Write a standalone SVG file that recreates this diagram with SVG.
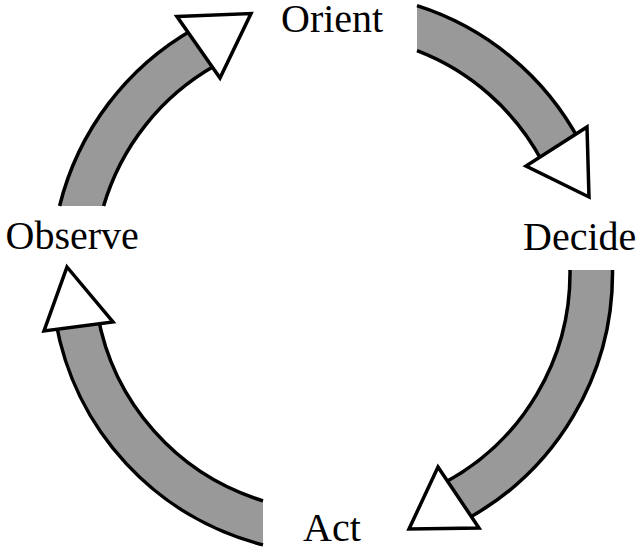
<svg xmlns="http://www.w3.org/2000/svg" width="643" height="548" viewBox="0 0 643 548">
  <defs>
    <style>
      .band { fill: #999999; stroke: none; }
      .edge { fill: none; stroke: #000; stroke-width: 3.5; }
      .head { fill: #fff; stroke: #000; stroke-width: 3.5; stroke-linejoin: miter; }
      .label { font-size: 40px; fill: #000; }
    </style>
  </defs>

  <rect width="643" height="548" fill="#fff"/>

  <!-- Curved arrows around the loop (center 332,273; outer r 280.5, inner r 238) -->
  <g id="connectors">
    <g id="observe-to-orient">
      <path class="band" d="M59.6,206 A280.5,280.5 0 0 1 193.9,28.9 L214.8,65.8 A238,238 0 0 0 103.6,206 Z"/>
      <path class="edge" d="M59.6,206 A280.5,280.5 0 0 1 193.9,28.9"/>
      <path class="edge" d="M103.6,206 A238,238 0 0 1 214.8,65.8"/>
      <polygon class="head" points="177,16.5 251,13.5 220,78"/>
    </g>
    <g id="orient-to-decide">
      <path class="band" d="M417,5.7 A280.5,280.5 0 0 1 579.7,141.3 L542.1,161.3 A238,238 0 0 0 417,50.7 Z"/>
      <path class="edge" d="M417,5.7 A280.5,280.5 0 0 1 579.7,141.3"/>
      <path class="edge" d="M417,50.7 A238,238 0 0 1 542.1,161.3"/>
      <polygon class="head" points="587,127 589,197 526,166"/>
    </g>
    <g id="decide-to-act">
      <path class="band" d="M612.5,270 A280.5,280.5 0 0 1 463.7,520.7 L443.7,483.1 A238,238 0 0 0 570,270 Z"/>
      <path class="edge" d="M612.5,270 A280.5,280.5 0 0 1 463.7,520.7"/>
      <path class="edge" d="M570,270 A238,238 0 0 1 443.7,483.1"/>
      <polygon class="head" points="438,467 479,528 409,529"/>
    </g>
    <g id="act-to-observe">
      <path class="band" d="M263,544.9 A280.5,280.5 0 0 1 55.8,321.7 L97.6,314.3 A238,238 0 0 0 263,500.8 Z"/>
      <path class="edge" d="M263,544.9 A280.5,280.5 0 0 1 55.8,321.7"/>
      <path class="edge" d="M263,500.8 A238,238 0 0 1 97.6,314.3"/>
      <polygon class="head" points="67,267 113,322 44,331"/>
    </g>
  </g>

  <!-- Stage labels -->
  <g font-family="'Liberation Serif', 'DejaVu Serif', serif">
    <g id="orient"><text class="label" x="281" y="32">Orient</text></g>
    <g id="decide"><text class="label" x="523" y="250">Decide</text></g>
    <g id="act"><text class="label" x="303" y="541">Act</text></g>
    <g id="observe"><text class="label" x="5.5" y="249">Observe</text></g>
  </g>
</svg>
